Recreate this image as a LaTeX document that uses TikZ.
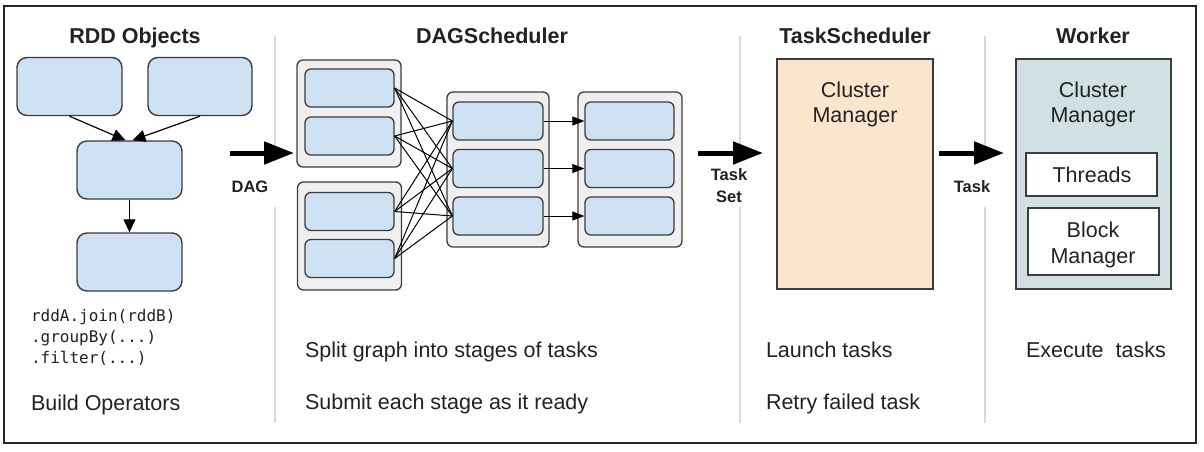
\documentclass[tikz,border=0pt]{standalone}
\usepackage{fontspec}
\setmainfont{Liberation Sans}
\newfontfamily\codefont{DejaVu Sans Mono}
\usetikzlibrary{arrows.meta}
\definecolor{rddblue}{HTML}{CFE2F3}
\definecolor{stagegrey}{HTML}{EFEFEF}
\definecolor{edgegrey}{HTML}{3C3C3C}
\definecolor{tsorange}{HTML}{FCE5CD}
\definecolor{wkblue}{HTML}{D0E0E3}
\definecolor{sepgrey}{HTML}{D9D9D9}
\definecolor{txt}{HTML}{222222}
\newcommand\ftbody{\fontsize{21.5}{25}\selectfont}
\newcommand\fthead{\fontsize{21.5}{25}\selectfont\bfseries}
\newcommand\ftlabel{\fontsize{16.5}{20}\selectfont\bfseries}
\newcommand\ftcode{\codefont\fontsize{16}{21}\selectfont}
\begin{document}
\begin{tikzpicture}[x=1pt,y=-1pt,
  rddbox/.style={draw=edgegrey, line width=1.4pt, fill=rddblue, rounded corners=10pt,
    minimum width=105pt, minimum height=58pt, inner sep=0pt},
  stagebox/.style={draw=edgegrey, line width=1.3pt, fill=stagegrey, rounded corners=6pt,
    minimum width=104pt, inner sep=0pt},
  taskbox/.style={draw=edgegrey, line width=1.3pt, fill=rddblue, rounded corners=6pt,
    minimum width=89pt, minimum height=38pt, inner sep=0pt},
  bigbox/.style={draw=edgegrey, line width=1.4pt, minimum width=155pt, minimum height=230pt, inner sep=0pt},
  whitebox/.style={draw=edgegrey, line width=1.4pt, fill=white, minimum width=131pt, inner sep=0pt},
  txtnode/.style={text=txt, inner sep=0pt, outer sep=0pt},
  sepline/.style={draw=sepgrey, line width=2pt},
  thinline/.style={draw=black, line width=1pt},
  smallarrow/.style={draw=black, line width=1.2pt, -{Triangle[length=13pt,width=12pt]}},
  tinyarrow/.style={draw=black, line width=1pt, -{Triangle[length=12pt,width=9pt]}},
  bigarrow/.style={draw=black, line width=5pt, -{Triangle[length=30pt,width=22pt]}},
]
\useasboundingbox (0,0) rectangle (1204,451);
\fill[white] (0,0) rectangle (1204,451);
\draw[draw=black!85, line width=2pt] (4,6) rectangle (1196,443);

% separators
\foreach \sx in {275,740,985} {
  \draw[sepline] (\sx,36) -- (\sx,147);
  \draw[sepline] (\sx,207) -- (\sx,423);
}

% titles
\node[txtnode, anchor=base] (t1) at (135,43) {\fthead RDD Objects};
\node[txtnode, anchor=base] (t2) at (492,43) {\fthead DAGScheduler};
\node[txtnode, anchor=base] (t3) at (855,43) {\fthead TaskScheduler};
\node[txtnode, anchor=base] (t4) at (1093,43) {\fthead Worker};

% RDD objects
\node[rddbox] (r1) at (69.5,86.5) {};
\node[rddbox, minimum width=104pt] (r2) at (200,86.5) {};
\node[rddbox] (r3) at (129.5,170) {};
\node[rddbox] (r4) at (129.5,262) {};
\draw[smallarrow] (r1.south) -- ([xshift=-4pt]r3.north);
\draw[smallarrow] (r2.south) -- ([xshift=3pt]r3.north);
\draw[smallarrow] (r3.south) -- (r4.north);

\node[txtnode, anchor=base west] (c1) at (31,321) {\ftcode rddA.join(rddB)};
\node[txtnode, anchor=base west] (c2) at (31,342) {\ftcode .groupBy(...)};
\node[txtnode, anchor=base west] (c3) at (31,363) {\ftcode .filter(...)};
\node[txtnode, anchor=base west] (bo) at (31,410) {\ftbody Build Operators};

% DAG arrow
\coordinate (dagS) at (230,153);
\coordinate (dagE) at (294,153);
\draw[bigarrow] (dagS) -- (dagE);
\node[txtnode, anchor=base] (dagl) at (250,192) {\ftlabel DAG};

% DAG scheduler stages
\node[stagebox, minimum height=107pt] (sA) at (349,113.5) {};
\node[stagebox, minimum height=108pt] (sB) at (349.5,236) {};
\node[stagebox, minimum width=102pt, minimum height=155pt] (sC) at (498,169.5) {};
\node[stagebox, minimum height=155pt] (sD) at (630,169.5) {};

\node[taskbox] (a1) at (349.5,88) {};
\node[taskbox] (a2) at (349.5,136) {};
\node[taskbox] (b1) at (349.5,211.5) {};
\node[taskbox] (b2) at (349.5,258.5) {};
\node[taskbox, minimum width=90pt] (k1) at (498,121) {};
\node[taskbox, minimum width=90pt] (k2) at (498,168.5) {};
\node[taskbox, minimum width=90pt] (k3) at (498,216) {};
\node[taskbox] (d1) at (629.5,121) {};
\node[taskbox] (d2) at (629.5,168.5) {};
\node[taskbox] (d3) at (629.5,216) {};

\foreach \s in {a1,a2,b1,b2} {
  \foreach \t in {k1,k2,k3} {
    \draw[thinline] (\s.east) -- (\t.west);
  }
}
\draw[tinyarrow] (k1.east) -- (d1.west);
\draw[tinyarrow] (k2.east) -- (d2.west);
\draw[tinyarrow] (k3.east) -- (d3.west);

\node[txtnode, anchor=base west] (sp1) at (305,357) {\ftbody Split graph into stages of tasks};
\node[txtnode, anchor=base west] (sp2) at (305,409) {\ftbody Submit each stage as it ready};

% Task set arrow
\coordinate (tsS) at (698,153);
\coordinate (tsE) at (763,153);
\draw[bigarrow] (tsS) -- (tsE);
\node[txtnode, anchor=base] (tsl1) at (729,180) {\ftlabel Task};
\node[txtnode, anchor=base] (tsl2) at (729,202) {\ftlabel Set};

% Task scheduler
\node[bigbox, fill=tsorange, minimum width=156pt] (ts) at (855,174) {};
\node[txtnode, anchor=base] (tsc1) at (855,97) {\ftbody Cluster};
\node[txtnode, anchor=base] (tsc2) at (855,122) {\ftbody Manager};
\node[txtnode, anchor=base west] (lt) at (766,357) {\ftbody Launch tasks};
\node[txtnode, anchor=base west] (rt) at (766,409) {\ftbody Retry failed task};

% Task arrow
\coordinate (tkS) at (939,153);
\coordinate (tkE) at (1004,153);
\draw[bigarrow] (tkS) -- (tkE);
\node[txtnode, anchor=base] (tkl) at (972,192) {\ftlabel Task};

% Worker
\node[bigbox, fill=wkblue] (wk) at (1093.5,174) {};
\node[txtnode, anchor=base] (wc1) at (1093,97) {\ftbody Cluster};
\node[txtnode, anchor=base] (wc2) at (1093,122) {\ftbody Manager};
\node[whitebox, minimum height=43pt] (th) at (1091.5,174.5) {};
\node[txtnode, anchor=base] (thl) at (1092,182) {\ftbody Threads};
\node[whitebox, minimum height=67pt] (bm) at (1093.5,241.5) {};
\node[txtnode, anchor=base] (bm1) at (1093,237) {\ftbody Block};
\node[txtnode, anchor=base] (bm2) at (1093,263) {\ftbody Manager};
\node[txtnode, anchor=base west] (ex) at (1026,357) {\ftbody Execute\ \ tasks};
\end{tikzpicture}
\end{document}
